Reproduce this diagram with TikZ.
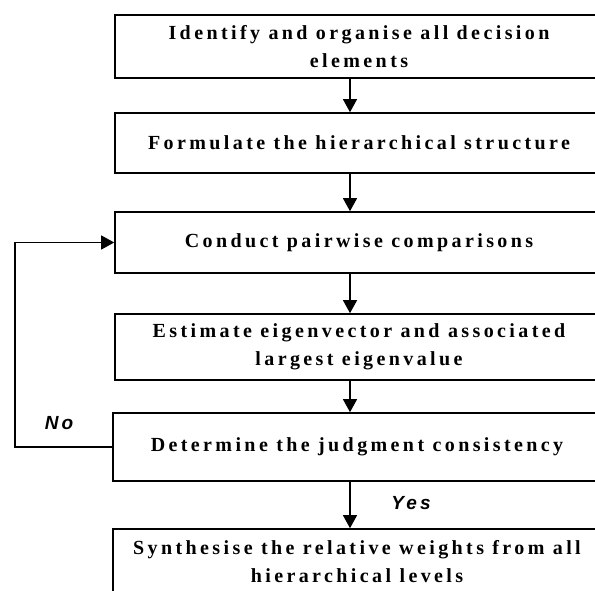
\documentclass[tikz,border=0pt]{standalone}
\usepackage{fontspec}
\setmainfont{Liberation Serif}
\newfontfamily\stepfont{Liberation Serif}[LetterSpace=17]
\newfontfamily\answerfont{Liberation Sans}[LetterSpace=16]
\usetikzlibrary{arrows.meta}

\tikzset{
  stepbox/.style={draw, line width=1.6pt, minimum width=488pt, align=center,
    font=\stepfont\bfseries\fontsize{20}{28}\selectfont},
  flow/.style={-{Triangle[width=14pt,length=13pt]}, line width=1.2pt},
  answer/.style={font=\answerfont\bfseries\itshape\fontsize{19}{20}\selectfont},
}

\begin{document}
\begin{tikzpicture}[x=1pt,y=-1pt]
\def\ax{350}
\def\lx{15}

\useasboundingbox (0,0) rectangle (595,591);
\clip (0,0) rectangle (595,591);

\coordinate (ax) at (\ax,0);
\coordinate (lx) at (\lx,0);

%Steps:
\node[stepbox, minimum height=63pt] (ident) at (359,46.5) {Identify and organise all decision\\elements};
\node[stepbox, minimum height=60pt] (form) at (359,143) {Formulate the hierarchical structure};
\node[stepbox, minimum height=61pt] (pair) at (359,242.5) {Conduct pairwise comparisons};
\node[stepbox, minimum height=66pt] (eigen) at (359,347) {Estimate eigenvector and associated\\largest eigenvalue};
\node[stepbox, minimum height=68pt] (check) at (357,447) {Determine the judgment consistency};
\node[stepbox, minimum height=66pt] (synth) at (357,562) {Synthesise the relative weights from all\\hierarchical levels};

%Flow:
\draw[flow] (ident.south -| ax) -- (form.north -| ax);
\draw[flow] (form.south -| ax) -- (pair.north -| ax);
\draw[flow] (pair.south -| ax) -- (eigen.north -| ax);
\draw[flow] (eigen.south -| ax) -- (check.north -| ax);
\draw[flow] (check.south -| ax) -- (synth.north -| ax);
\draw[flow] (check.west) -- (check.west -| lx) |- (pair.west);

\node[answer] (no) at (59,423) {No};
\node[answer] (yes) at (411,503) {Yes};

\end{tikzpicture}
\end{document}
